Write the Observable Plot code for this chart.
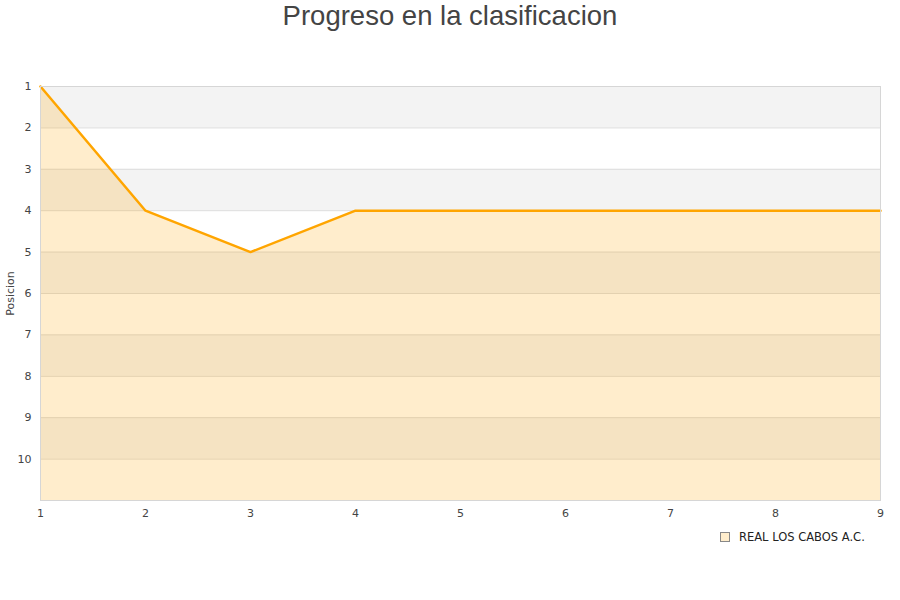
<!DOCTYPE html>
<html><head><meta charset="utf-8">
<script src="https://cdn.jsdelivr.net/npm/d3@7"></script>
<script src="https://cdn.jsdelivr.net/npm/@observablehq/plot@0.6"></script>
<style>
body{margin:0;background:#fff;width:900px;height:600px;overflow:hidden;}
#title{height:40px;text-align:center;font-family:"Liberation Sans",Arial,sans-serif;font-size:27.5px;color:#444;line-height:32px;}
#legend{position:relative;height:20px;font-family:"DejaVu Sans",sans-serif;font-size:11.5px;color:#222;}
#legend .sw{position:absolute;left:720px;top:2px;width:8px;height:8px;background:#ffedcc;border:1px solid #888;}
#legend .lb{position:absolute;left:739px;top:0px;}
</style></head>
<body>
<div id="title">Progreso en la clasificacion</div>
<div id="chart"></div>
<div id="legend"><span class="sw"></span><span class="lb">REAL LOS CABOS A.C.</span></div>
<script>
const jornadas = [1,2,3,4,5,6,7,8,9];
const posiciones = [1,4,5,4,4,4,4,4,4];
const yTicks = [1,2,3,4,5,6,7,8,9,10];
const bandStarts = [1,3,5,7,9];
const equipo = "REAL LOS CABOS A.C.";

const data = jornadas.map((j,i)=>({jornada:j, pos:posiciones[i]}));
const bands = bandStarts.map(b=>({y1:b, y2:b+1}));

const chart = Plot.plot({
  width: 900,
  height: 490,
  marginTop: 46,
  marginBottom: 30,
  marginLeft: 40,
  marginRight: 20,
  style: {fontFamily: "DejaVu Sans, sans-serif", fontSize: "11px", color: "#444", background: "transparent"},
  x: {domain: [1, 9], ticks: jornadas, tickSize: 0, tickPadding: 9, tickFormat: d3.format("d"), label: null},
  y: {domain: [1, 11], reverse: true, ticks: yTicks, tickSize: 0, tickPadding: 9, tickFormat: d3.format("d"), label: "Posicion", labelAnchor: "center", labelArrow: "none", labelOffset: 34},
  marks: [
    Plot.rectY(bands, {x1: 1, x2: 9, y1: "y1", y2: "y2", fill: "#f3f3f3"}),
    Plot.ruleY(yTicks, {stroke: "#dcdcdc", strokeWidth: 1}),
    Plot.areaY(data, {x: "jornada", y1: 11, y2: "pos", fill: "orange", fillOpacity: 0.2}),
    Plot.lineY(data, {x: "jornada", y: "pos", stroke: "orange", strokeWidth: 2.5}),
    Plot.frame({stroke: "#d6d6d6"})
  ]
});
document.getElementById("chart").appendChild(chart);
</script>
</body></html>
